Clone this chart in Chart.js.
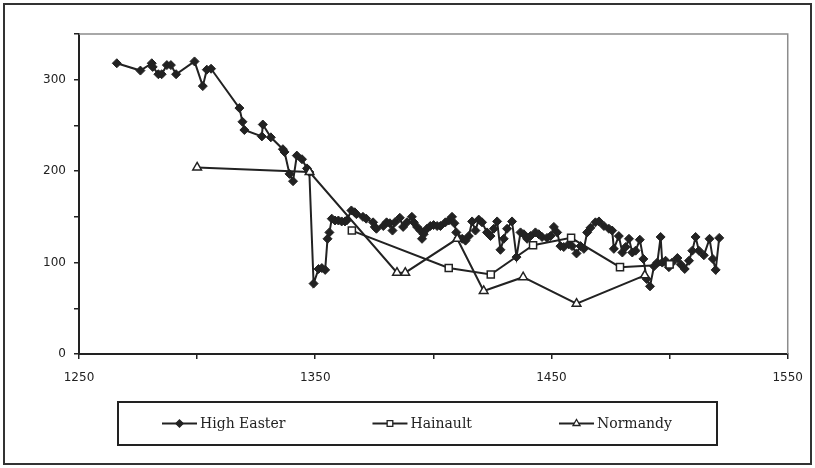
<!DOCTYPE html>
<html>
<head>
<meta charset="utf-8">
<script src="https://cdn.jsdelivr.net/npm/chart.js"></script>
<style>
  body { margin: 0; background: #fff; }
  #wrap { position: absolute; left: 0; top: 0; width: 815px; height: 468px; }
</style>
</head>
<body>
<div id="wrap"><canvas id="myChart" width="815" height="468"></canvas></div>
<script>
// series
const seriesNames = ['High Easter', 'Hainault', 'Normandy'];

const heYears = [1266, 1276, 1280.8, 1281.2, 1283.6, 1285, 1287.2, 1288.9, 1291.1, 1298.9,
  1302.4, 1304.1, 1305.9, 1317.9, 1319.2, 1320, 1327.4, 1327.8, 1331.2, 1336.3,
  1337, 1339.1, 1340.6, 1342.2, 1344.4, 1346.5, 1347.5, 1349.3, 1351.4, 1352.8,
  1354.2, 1355.2, 1356, 1357, 1358.4, 1359.8, 1361.2, 1362.6, 1363.3, 1365.3,
  1366.7, 1367.4, 1370.2, 1371.6, 1374.5, 1375.2, 1375.9, 1378.8, 1380.2, 1381.6,
  1382.7, 1383.7, 1385.8, 1387.2, 1388.8, 1390.9, 1391.7, 1393.1, 1394.5, 1395.2,
  1395.9, 1397.3, 1398.7, 1400.1, 1401.6, 1403, 1405.1, 1406.5, 1407.9, 1408.9,
  1409.7, 1410.7, 1412.2, 1413.6, 1415, 1416.4, 1417.8, 1419.2, 1420.6, 1422.7,
  1424.2, 1425.6, 1427, 1428.4, 1429.8, 1431.2, 1433.3, 1435.2, 1436.9, 1438.3,
  1439.7, 1441.1, 1443.2, 1444.6, 1446, 1448.1, 1449.6, 1451, 1452.4, 1453.8,
  1455.2, 1457.3, 1458.7, 1460.6, 1462.3, 1463.7, 1465.1, 1466.5, 1468.6, 1470.1,
  1472.2, 1474.3, 1475.7, 1476.4, 1478.5, 1480, 1481.4, 1482.8, 1484.2, 1485.6,
  1487.4, 1488.9, 1490.3, 1491.7, 1493.4, 1494.8, 1496.2, 1496.9, 1498.3, 1499.7,
  1501.1, 1503.3, 1504.7, 1506.4, 1508.2, 1509.6, 1511, 1512.4, 1514.5, 1516.9,
  1518.3, 1519.5, 1521];
const heValues = [318, 310, 318, 314, 306, 306, 316, 316, 306, 320,
  293, 311, 312, 269, 254, 245, 238, 251, 237, 224,
  221, 197, 189, 217, 213, 203, 199, 77, 93, 94,
  92, 126, 133, 148, 146, 146, 145, 145, 146, 157,
  155, 153, 150, 148, 144, 139, 137, 140, 144, 143,
  135, 144, 149, 139, 144, 150, 144, 139, 135, 126,
  131, 137, 140, 141, 140, 140, 144, 146, 150, 143,
  133, 127, 126, 124, 129, 145, 135, 147, 144, 133,
  129, 137, 145, 114, 126, 137, 145, 106, 133, 131,
  126, 129, 133, 131, 128, 127, 129, 139, 133, 118,
  117, 120, 118, 110, 118, 115, 133, 138, 144, 145,
  140, 137, 135, 115, 129, 111, 117, 126, 111, 113,
  125, 104, 82, 74, 96, 100, 128, 100, 102, 95,
  100, 105, 98, 93, 102, 113, 128, 113, 108, 126,
  104, 92, 127];

const hainaultYears = [1365.5, 1406.5, 1424.3, 1442.2, 1458.3, 1479, 1500];
const hainaultValues = [135, 94, 87, 119, 127, 95, 98];

const normandyYears = [1300, 1347.6, 1384.6, 1388.1, 1410.1, 1421.3, 1438, 1460.6, 1489.5];
const normandyValues = [204, 199, 89, 89, 126, 69, 84, 55, 86];

// axes
const xTickLabels = [1250, 1350, 1450, 1550];
const yTickLabels = [0, 100, 200, 300];

const ink = '#222';

function points(xs, ys) {
  return xs.map((x, i) => ({ x: x, y: ys[i] }));
}

const markerStyles = [
  { pointStyle: 'rectRot', radius: 4.5, fill: ink },
  { pointStyle: 'rect', radius: 5, fill: '#fff' },
  { pointStyle: 'triangle', radius: 5, fill: '#fff' }
];

function drawMarker(ctx, style, x, y) {
  const r = style.radius;
  ctx.beginPath();
  if (style.pointStyle === 'rectRot') {
    ctx.moveTo(x, y - r); ctx.lineTo(x + r, y); ctx.lineTo(x, y + r); ctx.lineTo(x - r, y);
  } else if (style.pointStyle === 'rect') {
    const s = r * Math.SQRT1_2;
    ctx.rect(x - s, y - s, 2 * s, 2 * s);
  } else {
    ctx.moveTo(x, y - r);
    ctx.lineTo(x + r * 0.866, y + r * 0.5);
    ctx.lineTo(x - r * 0.866, y + r * 0.5);
  }
  ctx.closePath();
  ctx.fillStyle = style.fill;
  ctx.fill();
  ctx.stroke();
}

const framePlugin = {
  id: 'frame',
  beforeDatasetsDraw(chart) {
    const { ctx, chartArea: a } = chart;
    ctx.save();
    ctx.strokeStyle = '#8c8c8c';
    ctx.lineWidth = 1.5;
    ctx.beginPath();
    ctx.moveTo(a.left, a.top);
    ctx.lineTo(a.right, a.top);
    ctx.lineTo(a.right, a.bottom);
    ctx.stroke();
    ctx.restore();
  },
  afterDraw(chart) {
    const ctx = chart.ctx;
    ctx.save();
    // outer border
    ctx.strokeStyle = '#333';
    ctx.lineWidth = 2;
    ctx.strokeRect(4, 4, 807, 460);

    // legend box
    ctx.strokeStyle = ink;
    ctx.lineWidth = 2;
    ctx.strokeRect(118, 402, 599, 43);

    ctx.font = '14px "DejaVu Serif"';
    ctx.textBaseline = 'middle';
    ctx.fillStyle = ink;
    let x = 162;
    const y = 423.5;
    seriesNames.forEach((name, i) => {
      ctx.strokeStyle = ink;
      ctx.lineWidth = 2;
      ctx.beginPath();
      ctx.moveTo(x, y);
      ctx.lineTo(x + 35, y);
      ctx.stroke();
      ctx.lineWidth = 1.3;
      drawMarker(ctx, { ...markerStyles[i], radius: markerStyles[i].radius * 0.8 }, x + 17.5, y);
      ctx.fillStyle = ink;
      ctx.fillText(name, x + 38, y + 1);
      x += 38 + ctx.measureText(name).width + 87;
    });
    ctx.restore();
  }
};

const ctx = document.getElementById('myChart');

const myChart = new Chart(ctx, {
  type: 'scatter',
  data: {
    datasets: [{
      label: seriesNames[0],
      data: points(heYears, heValues),
      showLine: true,
      borderColor: ink,
      borderWidth: 2,
      pointStyle: markerStyles[0].pointStyle,
      pointRadius: markerStyles[0].radius,
      pointBackgroundColor: ink,
      pointBorderColor: ink,
      pointBorderWidth: 1,
      order: 3
    }, {
      label: seriesNames[1],
      data: points(hainaultYears, hainaultValues),
      showLine: true,
      borderColor: ink,
      borderWidth: 2,
      pointStyle: markerStyles[1].pointStyle,
      pointRadius: markerStyles[1].radius,
      pointBackgroundColor: '#fff',
      pointBorderColor: ink,
      pointBorderWidth: 1.5,
      order: 2
    }, {
      label: seriesNames[2],
      data: points(normandyYears, normandyValues),
      showLine: true,
      borderColor: ink,
      borderWidth: 2,
      pointStyle: markerStyles[2].pointStyle,
      pointRadius: markerStyles[2].radius,
      pointBackgroundColor: '#fff',
      pointBorderColor: ink,
      pointBorderWidth: 1.5,
      order: 1
    }]
  },
  options: {
    responsive: false,
    animation: false,
    layout: { padding: { top: 34, right: 27, bottom: 80, left: 0 } },
    plugins: {
      legend: { display: false },
      tooltip: { enabled: false }
    },
    scales: {
      x: {
        type: 'linear',
        min: 1250,
        max: 1550,
        afterFit(scale) { scale.height = 34; },
        ticks: {
          stepSize: 50,
          autoSkip: false,
          maxRotation: 0,
          padding: 12,
          color: ink,
          font: { family: 'DejaVu Sans', size: 12 },
          callback: (v) => xTickLabels.includes(v) ? String(v) : ''
        },
        grid: { drawOnChartArea: false, drawTicks: true, tickLength: 5, color: ink, lineWidth: 1.5 },
        border: { display: true, color: ink, width: 2 }
      },
      y: {
        min: 0,
        max: 350,
        afterFit(scale) { scale.width = 79; },
        ticks: {
          stepSize: 50,
          autoSkip: false,
          padding: 8,
          color: ink,
          font: { family: 'DejaVu Sans', size: 12 },
          callback: (v) => yTickLabels.includes(v) ? String(v) : ''
        },
        grid: { drawOnChartArea: false, drawTicks: true, tickLength: 5, color: ink, lineWidth: 1.5 },
        border: { display: true, color: ink, width: 2 }
      }
    }
  },
  plugins: [framePlugin]
});
</script>
</body>
</html>
